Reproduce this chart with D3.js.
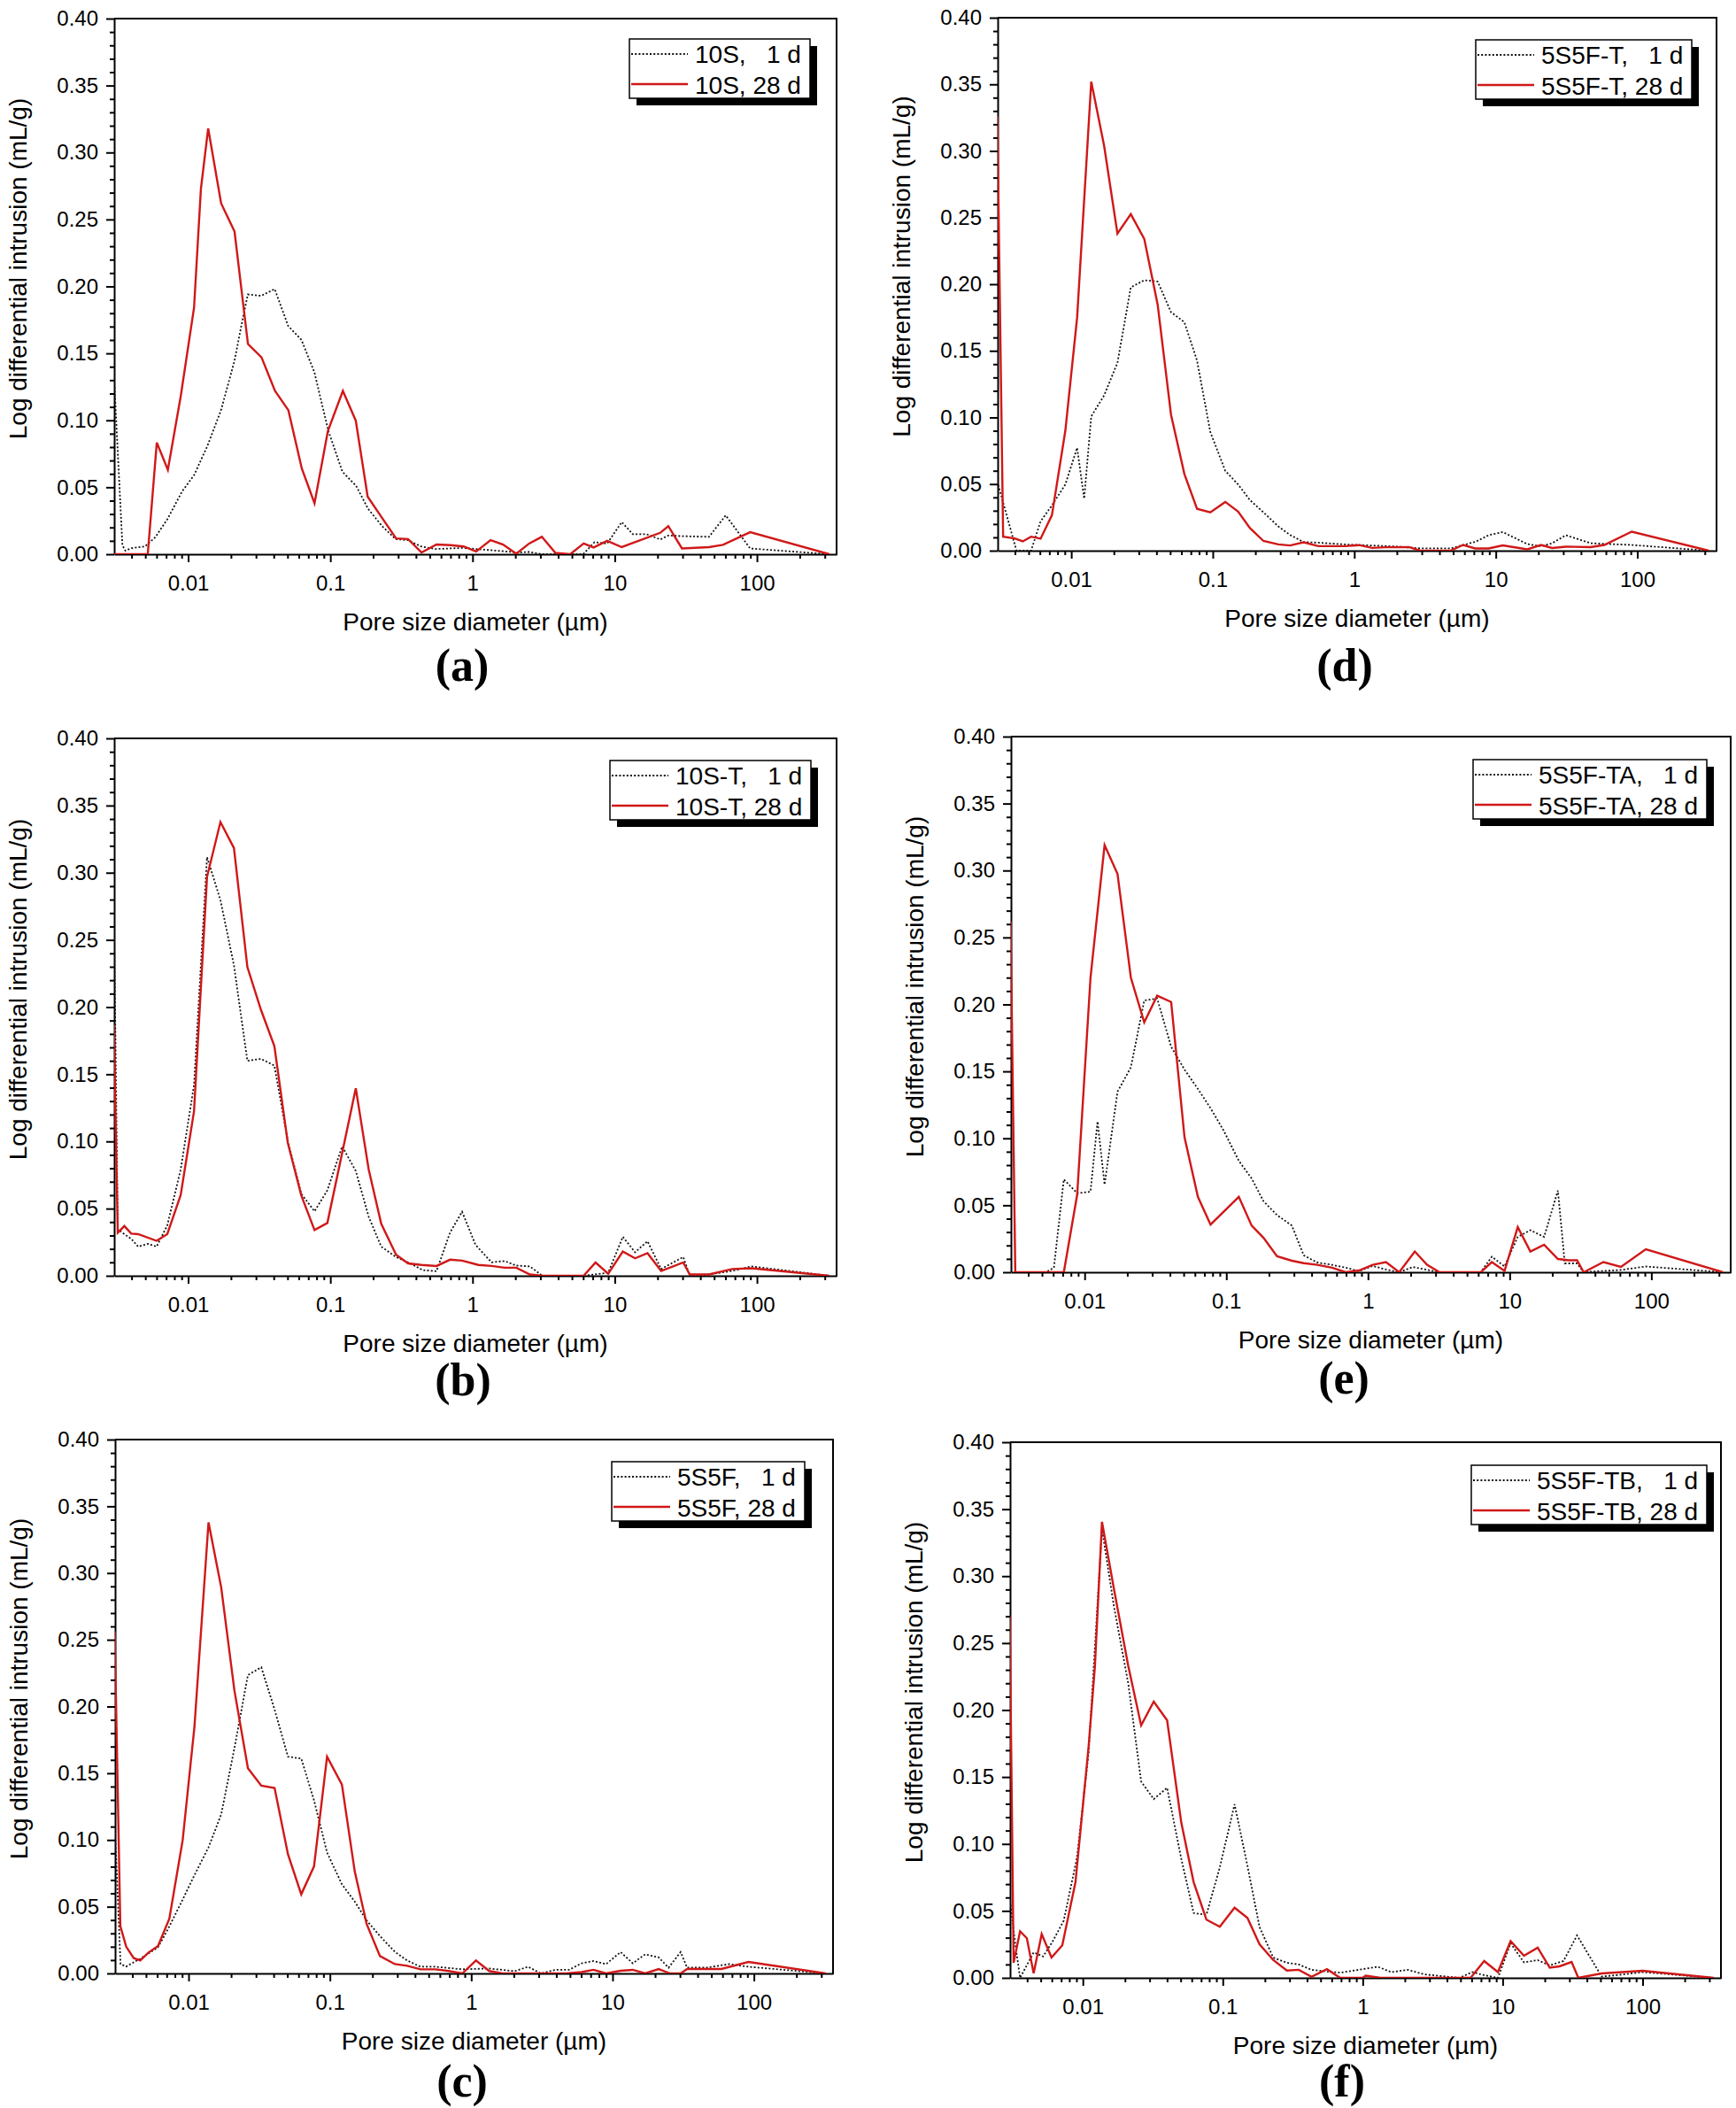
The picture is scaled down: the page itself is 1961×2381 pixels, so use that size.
<!DOCTYPE html>
<html><head><meta charset="utf-8">
<script src="https://cdn.jsdelivr.net/npm/d3@7"></script>
<style>
body{margin:0;background:#fff}
text{font-family:"Liberation Sans",Arial,sans-serif;fill:#000}
</style>
</head><body>
<svg id="chart" width="1961" height="2381" xmlns="http://www.w3.org/2000/svg"></svg>
<script>
// ---------------- DATA (pore diameter in µm, log differential intrusion in mL/g) ----------------
const panelLetters = ["a", "b", "c", "d", "e", "f"];
const sampleNames = ["10S", "10S-T", "5S5F", "5S5F-T", "5S5F-TA", "5S5F-TB"];
const ageLabels = ["1 d", "28 d"];
const xTickValues = [0.01, 0.1, 1, 10, 100];
const xTickLabels = ["0.01", "0.1", "1", "10", "100"];
const yTickValues = [0, 0.05, 0.10, 0.15, 0.20, 0.25, 0.30, 0.35, 0.40];
const yTickLabels = ["0.00", "0.05", "0.10", "0.15", "0.20", "0.25", "0.30", "0.35", "0.40"];
const xAxisTitle = "Pore size diameter (\u00b5m)";
const yAxisTitle = "Log differential intrusion (mL/g)";

const s10S_1d = [[0.003,0.136],[0.00345,0.0066],[0.00362,0.0026],[0.0040,0.0045],[0.00497,0.0058],[0.00587,0.0126],[0.00713,0.026],[0.00908,0.047],[0.0110,0.059],[0.01368,0.081],[0.01702,0.1075],[0.02113,0.144],[0.02443,0.178],[0.0263,0.194],[0.0327,0.193],[0.0406,0.198],[0.0505,0.1705],[0.0627,0.160],[0.0772,0.136],[0.0969,0.092],[0.1216,0.0616],[0.152,0.051],[0.184,0.034],[0.231,0.021],[0.288,0.0113],[0.352,0.0105],[0.434,0.0058],[0.552,0.0039],[0.853,0.0047],[1.35,0.003],[2.07,0.0013],[2.5,0.0017],[3.1,0],[6.0,0],[7.2,0.009],[8.85,0.008],[11.2,0.024],[13.4,0.015],[16.7,0.015],[20.9,0.011],[23.8,0.014],[29.7,0.0135],[46,0.013],[60.3,0.029],[89.6,0.0043],[323,0]];
const s10S_28d = [[0.003,0],[0.0052,0],[0.00602,0.0834],[0.0072,0.063],[0.00887,0.118],[0.0110,0.184],[0.0123,0.273],[0.01383,0.318],[0.01706,0.262],[0.0212,0.241],[0.02634,0.157],[0.0328,0.147],[0.0408,0.122],[0.0507,0.1075],[0.0630,0.064],[0.0774,0.038],[0.0961,0.092],[0.1225,0.122],[0.151,0.0997],[0.183,0.043],[0.228,0.028],[0.290,0.0118],[0.352,0.0113],[0.438,0.0013],[0.558,0.0073],[0.70,0.0068],[0.865,0.0058],[1.06,0.002],[1.34,0.0105],[1.64,0.0072],[2.03,0.0003],[2.5,0.008],[3.07,0.013],[3.83,0.001],[4.86,0],[6.05,0.008],[7.1,0.005],[8.85,0.010],[11.2,0.0053],[20.9,0.016],[23.8,0.021],[29.7,0.0043],[46,0.0053],[57.7,0.007],[89.6,0.0165],[323,0]];

const s10ST_1d = [[0.003,0.279],[0.0032,0.0347],[0.00356,0.031],[0.00398,0.0275],[0.00445,0.0217],[0.0052,0.0238],[0.0060,0.0217],[0.00713,0.0374],[0.00886,0.079],[0.0110,0.142],[0.01358,0.3116],[0.01687,0.2796],[0.0210,0.231],[0.0261,0.160],[0.0325,0.1615],[0.0404,0.1565],[0.0502,0.1005],[0.0625,0.061],[0.0774,0.048],[0.0953,0.0636],[0.121,0.0963],[0.151,0.078],[0.186,0.044],[0.228,0.0217],[0.290,0.0139],[0.352,0.010],[0.448,0.0042],[0.558,0.0034],[0.695,0.0322],[0.844,0.0477],[1.05,0.023],[1.36,0.010],[1.68,0.011],[2.03,0.0076],[2.53,0.007],[3.1,0],[6.04,0],[9.0,0.0023],[11.4,0.029],[13.9,0.0175],[17,0.0257],[21.2,0.005],[30.3,0.014],[33.7,0],[46,0.001],[67,0.0036],[91.6,0.007],[322,0]];
const s10ST_28d = [[0.003,0.187],[0.0032,0.032],[0.00356,0.037],[0.00398,0.0314],[0.00445,0.031],[0.0060,0.026],[0.00713,0.031],[0.00886,0.060],[0.0110,0.1225],[0.01358,0.297],[0.01687,0.3377],[0.0210,0.3184],[0.0261,0.2298],[0.0325,0.198],[0.0404,0.171],[0.0502,0.099],[0.0625,0.0597],[0.0774,0.034],[0.0953,0.0393],[0.151,0.1395],[0.186,0.0793],[0.228,0.0387],[0.290,0.0157],[0.352,0.0092],[0.438,0.0081],[0.558,0.0073],[0.695,0.012],[0.844,0.0113],[1.10,0.0081],[1.36,0.0073],[1.68,0.006],[2.03,0.006],[2.53,0.001],[3.1,0],[6.04,0],[7.33,0.0099],[9.0,0.0016],[11.4,0.018],[13.9,0.013],[17,0.0168],[21.2,0.0036],[30.3,0.0099],[33.7,0.001],[46,0.001],[67,0.005],[91.6,0.0056],[322,0]];

const s5S5F_1d = [[0.003,0.114],[0.0033,0.007],[0.00362,0.0052],[0.00455,0.011],[0.00608,0.0196],[0.00731,0.0352],[0.00908,0.0553],[0.0110,0.0736],[0.01384,0.0945],[0.01703,0.1193],[0.0211,0.1687],[0.0263,0.2236],[0.0327,0.2294],[0.0406,0.1977],[0.0505,0.1624],[0.0627,0.161],[0.0772,0.1297],[0.0955,0.0905],[0.1216,0.0668],[0.150,0.0538],[0.182,0.0397],[0.226,0.028],[0.288,0.0162],[0.352,0.0097],[0.438,0.005],[0.558,0.005],[0.865,0.0031],[1.34,0.0037],[2.03,0.0017],[2.53,0.005],[3.1,0],[3.95,0.0027],[4.92,0.0027],[6.04,0.0076],[7.33,0.0093],[9.0,0.007],[11.4,0.016],[13.9,0.0076],[17,0.0143],[21.2,0.012],[24.9,0.0043],[30.3,0.016],[33.7,0.0043],[46,0.0043],[67,0.007],[91.6,0.005],[322,0]];
const s5S5F_28d = [[0.003,0.256],[0.00329,0.0355],[0.00362,0.020],[0.00409,0.0115],[0.00455,0.0097],[0.00521,0.0157],[0.00608,0.0206],[0.00731,0.041],[0.00908,0.0997],[0.0110,0.1846],[0.01384,0.338],[0.01703,0.289],[0.0211,0.212],[0.0263,0.1538],[0.0327,0.1407],[0.0406,0.139],[0.0505,0.0893],[0.0627,0.0593],[0.0772,0.0802],[0.0955,0.1624],[0.1216,0.1415],[0.150,0.0762],[0.182,0.037],[0.226,0.013],[0.288,0.007],[0.352,0.0057],[0.438,0.0031],[0.558,0.0031],[0.695,0.0018],[0.865,0],[1.08,0.0097],[1.34,0.0018],[1.66,0],[4.71,0],[6.04,0.001],[7.33,0.0027],[9.0,0],[11.4,0.002],[13.9,0.0027],[17,0],[21.2,0.0033],[25.5,0],[30.3,0],[33.7,0.0033],[58.8,0.0033],[91.6,0.0086],[322,0]];

const s5S5FT_1d = [[0.003,0.052],[0.0041,0],[0.0052,0],[0.00607,0.022],[0.0073,0.034],[0.00908,0.0497],[0.0110,0.0772],[0.01233,0.039],[0.01384,0.1008],[0.01706,0.1165],[0.0212,0.141],[0.02634,0.1976],[0.0328,0.203],[0.0408,0.202],[0.0507,0.179],[0.0630,0.1715],[0.0774,0.1427],[0.0961,0.089],[0.1225,0.060],[0.151,0.0497],[0.183,0.038],[0.228,0.0288],[0.290,0.0183],[0.352,0.0118],[0.438,0.0065],[0.558,0.006],[0.865,0.0047],[1.34,0.0039],[2.07,0.003],[2.92,0.0017],[4.78,0.0017],[7.15,0.0066],[8.9,0.0116],[11.2,0.014],[16.7,0.005],[20.9,0.0033],[25,0.0056],[31.3,0.0116],[46.8,0.0056],[91.4,0.0043],[320,0]];
const s5S5FT_28d = [[0.003,0.326],[0.0033,0.0105],[0.00398,0.0092],[0.00454,0.007],[0.0052,0.0105],[0.00607,0.009],[0.0073,0.0267],[0.00908,0.090],[0.0110,0.175],[0.01384,0.352],[0.01706,0.304],[0.0212,0.238],[0.02634,0.2526],[0.0328,0.234],[0.0408,0.1846],[0.0507,0.102],[0.0630,0.0576],[0.0774,0.0314],[0.0961,0.0288],[0.1225,0.0366],[0.151,0.0293],[0.183,0.017],[0.228,0.0073],[0.290,0.0047],[0.352,0.0039],[0.438,0.0063],[0.558,0.0034],[0.865,0.0034],[1.08,0.0042],[1.34,0.0021],[1.66,0.0026],[2.44,0.0027],[2.92,0],[4.78,0],[5.88,0.0043],[7.15,0.0017],[8.9,0.0017],[11.2,0.004],[16.7,0.001],[20.9,0.0043],[25,0.002],[31.3,0.003],[46.8,0.0027],[58.5,0.0043],[91.4,0.0143],[320,0]];

const s5S5FTA_1d = [[0.003,0],[0.00533,0],[0.00607,0.0034],[0.00713,0.0694],[0.00886,0.059],[0.0110,0.0602],[0.01233,0.1126],[0.01383,0.0654],[0.01706,0.1348],[0.0212,0.153],[0.02634,0.2029],[0.0325,0.2045],[0.0408,0.1684],[0.0507,0.1513],[0.0630,0.1369],[0.0774,0.1225],[0.0961,0.1055],[0.1225,0.0832],[0.151,0.070],[0.183,0.053],[0.228,0.0427],[0.290,0.0348],[0.352,0.0126],[0.438,0.0073],[0.558,0.0055],[0.695,0.0034],[0.865,0.0008],[1.08,0.0047],[1.34,0.002],[1.66,0],[2.07,0.0039],[3.2,0],[6.25,0],[7.48,0.0116],[9.2,0.0043],[11.4,0.0264],[14,0.0314],[17.5,0.0264],[21.9,0.061],[24.5,0.0066],[29.9,0.0066],[33.3,0],[45.9,0.001],[61,0.0017],[91.4,0.0043],[320,0]];
const s5S5FTA_28d = [[0.003,0.262],[0.00324,0],[0.00713,0],[0.00886,0.058],[0.0110,0.220],[0.01383,0.319],[0.01706,0.2975],[0.0212,0.220],[0.02634,0.1866],[0.0325,0.2065],[0.0408,0.2018],[0.0507,0.1008],[0.0630,0.0563],[0.0774,0.0356],[0.1225,0.0563],[0.151,0.0348],[0.183,0.0257],[0.228,0.012],[0.290,0.0086],[0.352,0.0068],[0.438,0.0055],[0.558,0.0034],[0.695,0],[0.865,0.0013],[1.08,0.0055],[1.34,0.0076],[1.66,0],[2.14,0.0155],[2.61,0.0056],[3.2,0],[6.25,0],[7.48,0.0076],[9.2,0.001],[11.4,0.0337],[14,0.0155],[17.5,0.0205],[21.9,0.0099],[26.1,0.0089],[29.9,0.0089],[33.3,0],[45.9,0.0076],[61,0.004],[91.4,0.0172],[320,0]];

const s5S5FTB_1d = [[0.003,0.06],[0.0033,0.024],[0.00356,0],[0.00445,0.019],[0.0052,0.016],[0.00607,0.027],[0.0073,0.0427],[0.00908,0.0898],[0.011,0.1683],[0.0137,0.3353],[0.01667,0.2775],[0.0211,0.2199],[0.0261,0.1466],[0.0321,0.1335],[0.0400,0.1419],[0.0505,0.089],[0.0619,0.0484],[0.0764,0.0471],[0.0952,0.0825],[0.1214,0.1296],[0.150,0.0838],[0.183,0.038],[0.229,0.0152],[0.287,0.0113],[0.349,0.010],[0.431,0.006],[0.555,0.0047],[0.69,0.0039],[0.935,0.006],[1.28,0.0083],[1.60,0.0043],[2.10,0.006],[2.75,0.0026],[3.94,0.001],[4.93,0],[6.05,0.0043],[7.38,0.002],[9.25,0],[11.4,0.0258],[14.2,0.0116],[17.8,0.0132],[21.7,0.0093],[27.2,0.0126],[34,0.0317],[51,0.001],[61,0.0017],[100,0.0043],[321,0]];
const s5S5FTB_28d = [[0.003,0.27],[0.0032,0.0113],[0.00356,0.0348],[0.00398,0.0296],[0.00445,0.0034],[0.00508,0.0327],[0.00597,0.0152],[0.00713,0.0243],[0.00886,0.0715],[0.0110,0.173],[0.0122,0.233],[0.0137,0.3406],[0.01667,0.2906],[0.0211,0.233],[0.0261,0.1885],[0.0321,0.2063],[0.0400,0.1924],[0.0505,0.116],[0.0619,0.0715],[0.0764,0.0435],[0.0952,0.0382],[0.1214,0.0524],[0.150,0.0448],[0.183,0.0251],[0.229,0.0134],[0.287,0.0055],[0.349,0.006],[0.431,0.0008],[0.555,0.0065],[0.69,0],[1.0,0],[1.05,0.0016],[1.34,0],[5.9,0],[7.38,0.0126],[9.25,0.0043],[11.4,0.0274],[14.2,0.0165],[17.8,0.0225],[21.7,0.0076],[25.5,0.0086],[31.1,0.0119],[34.7,0],[51,0.0033],[100,0.0053],[321,0]];

const series1d = [s10S_1d, s10ST_1d, s5S5F_1d, s5S5FT_1d, s5S5FTA_1d, s5S5FTB_1d];
const series28d = [s10S_28d, s10ST_28d, s5S5F_28d, s5S5FT_28d, s5S5FTA_28d, s5S5FTB_28d];

// ---------------- LAYOUT ----------------
const geometry = {
  a: {x0:129, x1:945,  y0:21,   y1:626,  legR:915,  legT:44,   labX:522,  labY:769},
  b: {x0:129, x1:945,  y0:834,  y1:1441, legR:916,  legT:859,  labX:523,  labY:1576},
  c: {x0:130, x1:941,  y0:1626, y1:2229, legR:909,  legT:1651, labX:522,  labY:2368},
  d: {x0:1127,x1:1939, y0:20,   y1:622,  legR:1911, legT:45,   labX:1519, labY:769},
  e: {x0:1142,x1:1955, y0:832,  y1:1437, legR:1928, legT:858,  labX:1518, labY:1574},
  f: {x0:1141,x1:1944, y0:1629, y1:2234, legR:1928, legT:1655, labX:1516, labY:2368}
};
const RED = "#d01818";
const svg = d3.select("#chart");
svg.append("rect").attr("width",1961).attr("height",2381).attr("fill","#fff");

const xDomain = [Math.pow(10,-2.52), Math.pow(10,2.56)];
const minorX = [];
for (let e = -3; e <= 2; e++) for (let k = 2; k <= 9; k++) {
  const v = k * Math.pow(10, e);
  if (v > xDomain[0] && v < xDomain[1]) minorX.push(v);
}
const minorY = d3.range(0, 41).map(i => i / 100).filter(v => Math.round(v * 100) % 5 !== 0);

panelLetters.forEach((letter, i) => {
  const g = geometry[letter];
  const x = d3.scaleLog().domain(xDomain).range([g.x0, g.x1]);
  const y = d3.scaleLinear().domain([0, 0.4]).range([g.y1, g.y0]);
  const pg = svg.append("g");

  const clipId = "clip-" + letter;
  pg.append("clipPath").attr("id", clipId).append("rect")
    .attr("x", g.x0).attr("y", g.y0 - 2).attr("width", g.x1 - g.x0).attr("height", g.y1 - g.y0 + 2);

  // y axis major
  const yAx = pg.append("g").attr("transform", `translate(${g.x0},0)`)
    .call(d3.axisLeft(y).tickValues(yTickValues).tickSize(9).tickSizeOuter(0).tickPadding(9)
      .tickFormat((d, j) => yTickLabels[j]));
  yAx.selectAll("text").style("font-size", "24px");
  // y axis minor
  pg.append("g").attr("transform", `translate(${g.x0},0)`)
    .call(d3.axisLeft(y).tickValues(minorY).tickSize(5).tickSizeOuter(0).tickFormat(""))
    .select(".domain").remove();
  // x axis major
  const xAx = pg.append("g").attr("transform", `translate(0,${g.y1})`)
    .call(d3.axisBottom(x).tickValues(xTickValues).tickSize(9).tickSizeOuter(0).tickPadding(15)
      .tickFormat((d, j) => xTickLabels[j]));
  xAx.selectAll("text").style("font-size", "24px");
  // x axis minor
  pg.append("g").attr("transform", `translate(0,${g.y1})`)
    .call(d3.axisBottom(x).tickValues(minorX).tickSize(5).tickSizeOuter(0).tickFormat(""))
    .select(".domain").remove();
  pg.selectAll(".domain, .tick line").attr("stroke", "#000").attr("stroke-width", 2);

  // top and right frame
  pg.append("line").attr("x1", g.x0).attr("x2", g.x1).attr("y1", g.y0).attr("y2", g.y0)
    .attr("stroke", "#000").attr("stroke-width", 2);
  pg.append("line").attr("x1", g.x1).attr("x2", g.x1).attr("y1", g.y0 - 1).attr("y2", g.y1 + 1)
    .attr("stroke", "#000").attr("stroke-width", 2);

  // titles
  pg.append("text").attr("x", (g.x0 + g.x1) / 2).attr("y", g.y1 + 86)
    .attr("text-anchor", "middle").style("font-size", "28px").text(xAxisTitle);
  pg.append("text").attr("transform", `translate(${g.x0 - 99},${(g.y0 + g.y1) / 2 - 20}) rotate(-90)`)
    .attr("text-anchor", "middle").style("font-size", "28px").text(yAxisTitle);
  pg.append("text").attr("x", g.labX).attr("y", g.labY).attr("text-anchor", "middle")
    .style("font-family", "'Liberation Serif','Times New Roman',serif")
    .style("font-weight", "bold").style("font-size", "52px").text(`(${letter})`);

  // curves
  const line = d3.line().x(d => x(d[0])).y(d => y(d[1]));
  const cg = pg.append("g").attr("clip-path", `url(#${clipId})`);
  cg.append("path").datum(series1d[i]).attr("d", line).attr("fill", "none")
    .attr("stroke", "#111").attr("stroke-width", 1.8).attr("stroke-dasharray", "2,2.2");
  cg.append("path").datum(series28d[i]).attr("d", line).attr("fill", "none")
    .attr("stroke", RED).attr("stroke-width", 2.4).attr("stroke-linejoin", "miter");

  // legend
  const lg = pg.append("g");
  const shadow = lg.append("rect");
  const box = lg.append("rect");
  const labels = [`${sampleNames[i]},   ${ageLabels[0]}`, `${sampleNames[i]}, ${ageLabels[1]}`];
  const texts = labels.map((t, j) => lg.append("text").attr("xml:space", "preserve")
    .style("white-space", "pre").style("font-size", "28px").attr("y", g.legT + 27 + j * 35).text(t));
  const tw = d3.max(texts, t => t.node().getComputedTextLength());
  const bw = Math.round(tw + 74 + 10);
  const bl = g.legR - bw;
  shadow.attr("x", bl + 8).attr("y", g.legT + 8).attr("width", bw).attr("height", 67).attr("fill", "#000");
  box.attr("x", bl).attr("y", g.legT).attr("width", bw).attr("height", 67)
    .attr("fill", "#fff").attr("stroke", "#000").attr("stroke-width", 1.5);
  texts.forEach(t => t.attr("x", bl + 74));
  lg.append("line").attr("x1", bl + 2).attr("x2", bl + 66).attr("y1", g.legT + 17).attr("y2", g.legT + 17)
    .attr("stroke", "#111").attr("stroke-width", 1.8).attr("stroke-dasharray", "2,2.2");
  lg.append("line").attr("x1", bl + 2).attr("x2", bl + 66).attr("y1", g.legT + 51).attr("y2", g.legT + 51)
    .attr("stroke", RED).attr("stroke-width", 2.4);
});
</script>
</body></html>
